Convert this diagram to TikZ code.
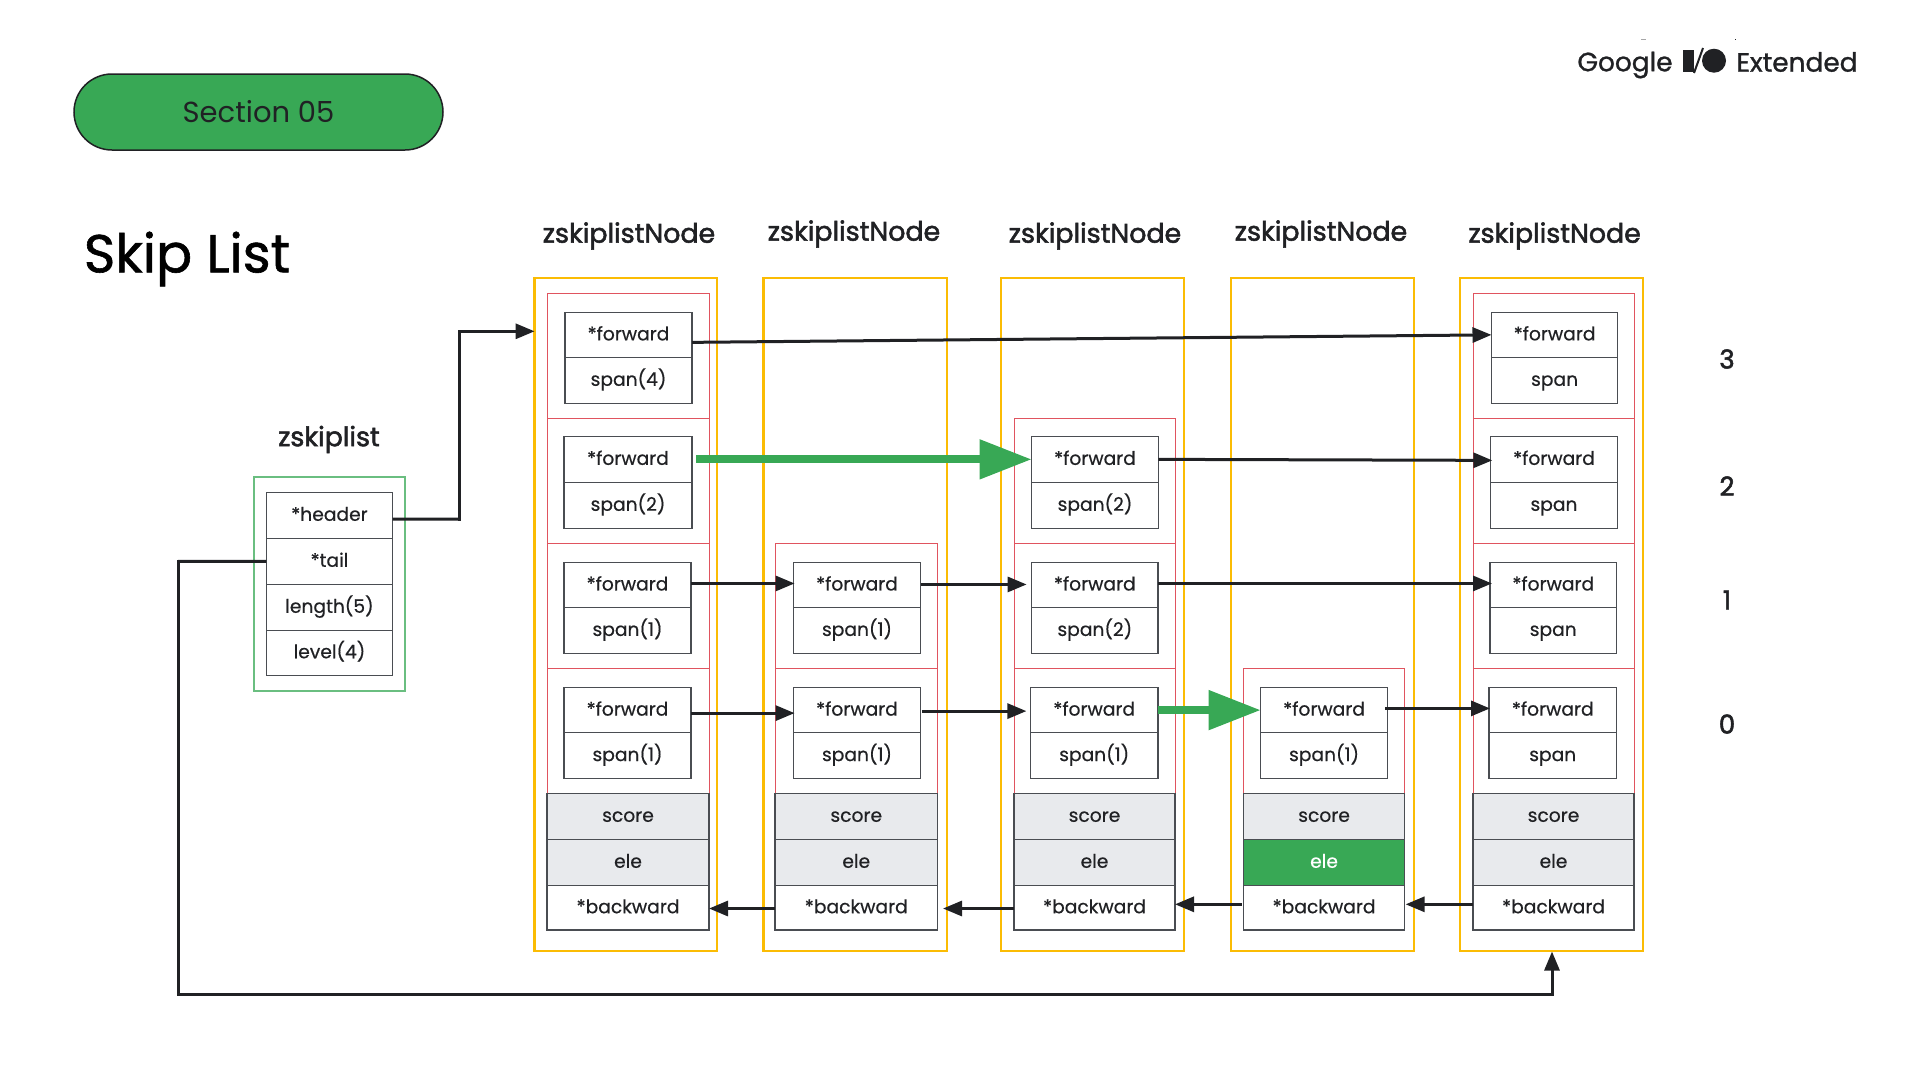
\documentclass[tikz,border=0pt]{standalone}
\usepackage{fontspec}
\setmainfont{Poppins}
\newfontfamily\medfont[FakeBold=2]{Poppins}
\newfontfamily\lightmed[FakeBold=1.1]{Poppins}
\newfontfamily\cellfont[FakeBold=0.5]{Poppins}
\usetikzlibrary{arrows.meta,calc}
\definecolor{gyellow}{HTML}{FBBC04}
\definecolor{gred}{HTML}{E0545F}
\definecolor{ggreen}{HTML}{38A855}
\definecolor{ggray}{HTML}{E8EAED}
\definecolor{ink}{HTML}{202124}
\definecolor{edge}{HTML}{4A4D52}
\tikzset{
  x=1pt,y=-1pt,
  cellbox/.style={draw=edge,line width=1.1pt,inner sep=0pt,outer sep=0pt,text=ink,text height=15pt,text depth=4pt,font=\fontsize{18.7}{19}\selectfont\cellfont},
  graybox/.style={cellbox,fill=ggray},
  greenbox/.style={cellbox,fill=ggreen,text=white},
  outerbox/.style={draw=gyellow,line width=2.4pt},
  redbox/.style={draw=gred,line width=1pt},
  listbox/.style={draw=ggreen!75!white,line width=2.2pt},
  conn/.style={draw=ink,line width=3pt,-{Triangle[length=19pt,width=15pt]}},
  plain/.style={draw=ink,line width=3pt},
  bigconn/.style={draw=ggreen,line width=8pt,-{Triangle[length=52pt,width=38pt]}},
  headlabel/.style={text=ink,inner sep=0pt,font=\fontsize{26.8}{27}\selectfont\medfont},
  numlabel/.style={text=ink,inner sep=0pt,font=\fontsize{26}{26}\selectfont\medfont},
}
\newcommand{\cell}[7][cellbox]{%
  \node[#1,minimum width=#4pt-#3pt,minimum height=#6pt-#5pt,anchor=north west] (#2) at (#3,#5) {#7};}
\newcommand{\fwd}[7]{% prefix, x0, x1, y0, ymid, y1, span text
  \cell{#1f}{#2}{#3}{#4}{#5}{*forward}
  \cell{#1s}{#2}{#3}{#5}{#6}{#7}}
\newcommand{\colbase}[5]{% name,x0,x1,ele style,ele
  \cell[graybox]{#1score}{#2}{#3}{793.4}{839.2}{score}
  \cell[#4]{#1ele}{#2}{#3}{839.2}{885.4}{ele}
  \cell{#1back}{#2}{#3}{885.4}{930}{*backward}}
\begin{document}
\begin{tikzpicture}
\useasboundingbox (0,0) rectangle (1920,1080);
% section pill and title
\node[draw=ink,line width=1.5pt,fill=ggreen,rounded corners=38pt,minimum width=369pt,minimum height=76pt,inner sep=0pt,text=ink,font=\fontsize{29}{29}\selectfont] (section) at (258.5,112) {Section 05};
\node[inner sep=0pt,text=black,font=\fontsize{53.5}{54}\selectfont\lightmed,anchor=center] (title) at (187,259) {Skip List};
% logo
\node[inner sep=0pt,text=ink,font=\fontsize{26.4}{27}\selectfont\lightmed,anchor=center] (logoa) at (1625,65) {Google};
\node[inner sep=0pt,text=ink,font=\fontsize{26.4}{27}\selectfont\lightmed,anchor=center] (logob) at (1797,62) {Extended};
\fill[ink] (1682.7,50) rectangle (1694,72);
\draw[ink,line width=2pt] (1694,73) -- (1703,48);
\fill[ink] (1714,60.7) circle (12);
\fill[ink!40] (1641,39.4) rectangle (1646,40.2);
\fill[ink] (1734.6,38.6) rectangle (1736,40);
% outer boxes
\draw[outerbox] (534.6,278) rectangle (717,951);
\draw[outerbox] (763.6,278) rectangle (947,951);
\draw[outerbox] (1001,278) rectangle (1184,951);
\draw[outerbox] (1231,278) rectangle (1414,951);
\draw[outerbox] (1460,278) rectangle (1643,951);
% level boxes
\foreach \xa/\xb/\ya/\yb in {547/709/293.4/418.4,547/709/418.4/543.4,547/709/543.4/668.4,547/709/668.4/793.4,
  775/937.5/543.4/668.4,775/937.5/668.4/793.4,
  1014/1175/418.4/543.4,1014/1175/543.4/668.4,1014/1175/668.4/793.4,
  1243.5/1404.6/668.4/793.4,
  1473/1634/293.4/418.4,1473/1634/418.4/543.4,1473/1634/543.4/668.4,1473/1634/668.4/793.4}
  {\draw[redbox] (\xa,\ya) rectangle (\xb,\yb);}
% headings
\node[headlabel] (h1) at (629,236) {zskiplistNode};
\node[headlabel] (h2) at (854,234) {zskiplistNode};
\node[headlabel] (h3) at (1095,236) {zskiplistNode};
\node[headlabel] (h4) at (1321,234) {zskiplistNode};
\node[headlabel] (h5) at (1554.6,236) {zskiplistNode};
\node[headlabel] (hz) at (329,439.5) {zskiplist};
% zskiplist
\draw[listbox] (254,477.3) rectangle (404.8,691.2);
\cell{zh}{266.4}{392.5}{492.4}{538.2}{*header}
\cell{zt}{266.4}{392.5}{538.2}{584.4}{*tail}
\cell{zl}{266.4}{392.5}{584.4}{630.2}{length(5)}
\cell{zv}{266.4}{392.5}{630.2}{675.3}{level(4)}
% columns
\fwd{aiii}{565}{692}{312.3}{357.4}{403.2}{span(4)}
\fwd{aii}{564}{692}{436.3}{482.4}{528.2}{span(2)}
\fwd{ai}{564}{691}{562.4}{607.5}{653.3}{span(1)}
\fwd{a0}{564}{691}{687.4}{732.8}{778.3}{span(1)}
\colbase{a}{547}{709}{graybox}{}
\fwd{bi}{793.6}{920.4}{562.4}{607.5}{653.3}{span(1)}
\fwd{b0}{793.6}{920.4}{687.4}{732.8}{778.3}{span(1)}
\colbase{b}{775}{937.5}{graybox}{}
\fwd{cii}{1031.6}{1158.4}{436.3}{482.4}{528.2}{span(2)}
\fwd{ci}{1031.6}{1158}{562.4}{607.5}{653.3}{span(2)}
\fwd{c0}{1030.4}{1158}{687.4}{732.8}{778.3}{span(1)}
\colbase{c}{1014}{1175}{graybox}{}
\fwd{d0}{1260.7}{1387.4}{687.4}{732.8}{778.3}{span(1)}
\colbase{d}{1243.5}{1404.6}{greenbox}{}
\fwd{eiii}{1491.5}{1617.7}{312.3}{357.4}{403.2}{span}
\fwd{eii}{1490.3}{1617.7}{436.3}{482.4}{528.2}{span}
\fwd{ei}{1490}{1616.5}{562.4}{607.5}{653.3}{span}
\fwd{e0}{1489}{1616.5}{687.4}{732.8}{778.3}{span}
\colbase{e}{1473}{1634}{graybox}{}
% level numbers
\node[numlabel] (n3) at (1727,359) {3};
\node[numlabel] (n2) at (1727,486) {2};
\node[numlabel] (n1) at (1727,600) {1};
\node[numlabel] (n0) at (1727,724) {0};
% named free ends
\coordinate (headerbend) at (459,519);
\coordinate (headertop) at (459,331.3);
\coordinate (outerA) at (534.6,331.3);
\coordinate (tailbend) at (178.2,561.3);
\coordinate (tailfoot) at (178.2,994.2);
\coordinate (tailend) at (1552,951.5);
\coordinate (tailcorner) at (1552,994.2);
\coordinate (backtarget) at (1175,904.3);
% connectors
\draw[plain] ([yshift=-3.7pt]zh.east) -- (headerbend);
\draw[plain,line cap=rect] (headerbend) -- (headertop);
\draw[conn] (headertop) -- (outerA);
\draw[plain] (zt.west) -- (tailbend);
\draw[plain,line cap=rect] (tailbend) -- (tailfoot) -- (tailcorner);
\draw[conn] (tailcorner) -- (tailend);
\draw[conn] ([yshift=-7.5pt]aiiif.east) -- (eiiif.west);
\draw[bigconn] ([xshift=4pt]aiif.east) -- (ciif.west);
\draw[conn] (ciif.east) -- ([xshift=2pt,yshift=-1pt]eiif.west);
\draw[conn] ([yshift=1.5pt]aif.east) -- ([xshift=1pt,yshift=1.5pt]bif.west);
\draw[conn] ([xshift=1pt,yshift=0.5pt]bif.east) -- ([xshift=-5pt,yshift=0.5pt]cif.west);
\draw[conn] ([yshift=1.5pt]cif.east) -- ([xshift=2pt,yshift=1.5pt]eif.west);
\draw[conn] ([yshift=-3pt]a0f.east) -- ([xshift=1pt,yshift=-3pt]b0f.west);
\draw[conn] ([xshift=1.5pt,yshift=-1pt]b0f.east) -- ([xshift=-4pt,yshift=-1pt]c0f.west);
\draw[bigconn] (c0f.east) -- (d0f.west);
\draw[conn] ([xshift=-2pt,yshift=1.7pt]d0f.east) -- ([xshift=1pt,yshift=1.7pt]e0f.west);
\draw[conn] ([yshift=-0.8pt]bback.west) -- ([yshift=-0.8pt]aback.east);
\draw[conn] ([xshift=-0.5pt,yshift=-0.8pt]cback.west) -- ([xshift=5.5pt,yshift=-0.8pt]bback.east);
\draw[conn] ([xshift=-2pt,yshift=3.4pt]dback.west) -- (backtarget);
\draw[conn] ([yshift=3.4pt]eback.west) -- ([xshift=1pt,yshift=3.4pt]dback.east);
\end{tikzpicture}
\end{document}
